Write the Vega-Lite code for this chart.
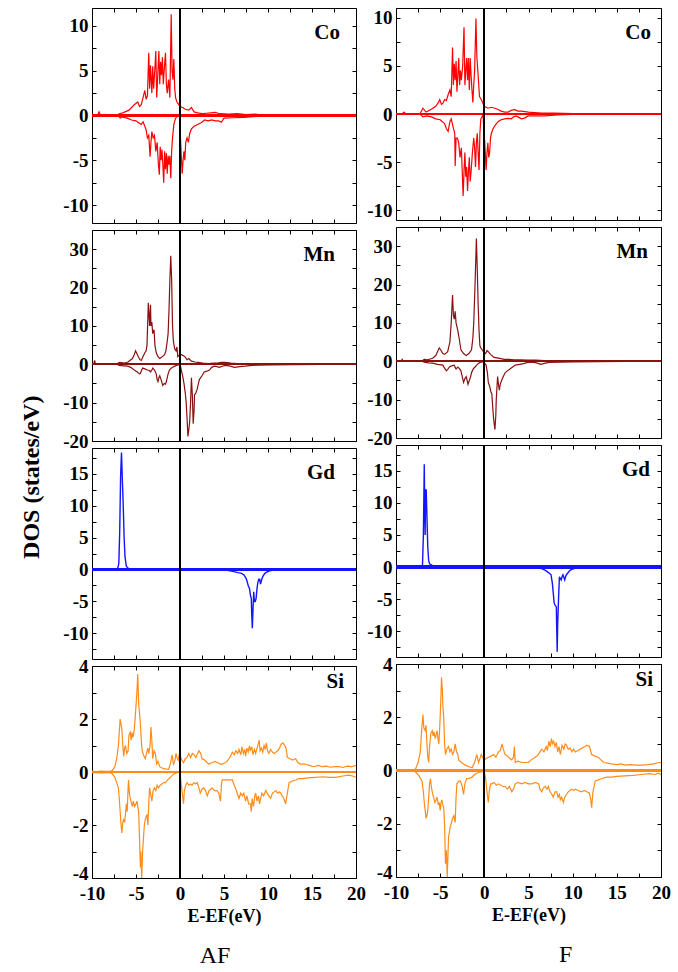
{
"$schema":"https://vega.github.io/schema/vega-lite/v6.json",
"padding":{"left":20,"top":7,"right":0,"bottom":0},
"config":{
"view":{"stroke":"black","strokeWidth":1},
"font":"Liberation Serif",
"axis":{"domain":false,"grid":false,"ticks":true,"tickSize":-4,"tickColor":"black","tickWidth":1,"labelFont":"Liberation Serif","labelFontSize":19,"labelFontWeight":"bold","labelColor":"black","labelPadding":8,"labelFlush":false,"labelOverlap":false,"titleFont":"Liberation Serif","titleFontSize":18,"titleFontWeight":"bold","titleColor":"black","titlePadding":4},
"title":{"font":"Liberation Serif","fontSize":21,"fontWeight":"bold","color":"black","anchor":"end","frame":"group","offset":-35},
"concat":{"spacing":7}
},
"datasets":{
"AF_Co":[
{"s":"u","e":-10,"d":0},{"s":"u","e":-9.4,"d":0},{"s":"u","e":-9.2,"d":0.4},{"s":"u","e":-9.0,"d":0},{"s":"u","e":-7.2,"d":0},{"s":"u","e":-6.9,"d":0.2},{"s":"u","e":-6.5,"d":0.3},{"s":"u","e":-5.8,"d":0.6},{"s":"u","e":-5.2,"d":1.2},{"s":"u","e":-4.8,"d":1.5},{"s":"u","e":-4.6,"d":1.0},{"s":"u","e":-4.4,"d":1.2},{"s":"u","e":-4.2,"d":2.0},{"s":"u","e":-4.0,"d":2.8},{"s":"u","e":-3.85,"d":1.8},{"s":"u","e":-3.7,"d":2.2},{"s":"u","e":-3.55,"d":7.0},{"s":"u","e":-3.45,"d":3.0},{"s":"u","e":-3.35,"d":5.6},{"s":"u","e":-3.2,"d":2.5},{"s":"u","e":-3.1,"d":5.5},{"s":"u","e":-3.0,"d":3.0},{"s":"u","e":-2.9,"d":4.5},{"s":"u","e":-2.75,"d":7.2},{"s":"u","e":-2.65,"d":2.0},{"s":"u","e":-2.55,"d":4.0},{"s":"u","e":-2.4,"d":7.2},{"s":"u","e":-2.3,"d":3.5},{"s":"u","e":-2.2,"d":6.0},{"s":"u","e":-2.1,"d":4.5},{"s":"u","e":-2.0,"d":6.5},{"s":"u","e":-1.9,"d":3.5},{"s":"u","e":-1.8,"d":5.0},{"s":"u","e":-1.65,"d":7.0},{"s":"u","e":-1.55,"d":3.5},{"s":"u","e":-1.45,"d":2.5},{"s":"u","e":-1.3,"d":4.0},{"s":"u","e":-1.15,"d":2.0},{"s":"u","e":-1.0,"d":11.3},{"s":"u","e":-0.9,"d":5.0},{"s":"u","e":-0.8,"d":4.0},{"s":"u","e":-0.7,"d":6.3},{"s":"u","e":-0.6,"d":3.0},{"s":"u","e":-0.5,"d":2.0},{"s":"u","e":-0.35,"d":1.5},{"s":"u","e":-0.2,"d":1.3},{"s":"u","e":0,"d":1.0},{"s":"u","e":0.3,"d":0.9},{"s":"u","e":0.6,"d":0.7},{"s":"u","e":1.0,"d":0.6},{"s":"u","e":1.3,"d":0.9},{"s":"u","e":1.6,"d":0.4},{"s":"u","e":2.0,"d":0.3},{"s":"u","e":2.5,"d":0.2},{"s":"u","e":3.0,"d":0.25},{"s":"u","e":3.5,"d":0.3},{"s":"u","e":4.0,"d":0.35},{"s":"u","e":4.5,"d":0.2},{"s":"u","e":5.5,"d":0.15},{"s":"u","e":6.5,"d":0.2},{"s":"u","e":7.5,"d":0.1},{"s":"u","e":8.5,"d":0.15},{"s":"u","e":9.5,"d":0.05},{"s":"u","e":11,"d":0.05},{"s":"u","e":13,"d":0.02},{"s":"u","e":16,"d":0.02},{"s":"u","e":20,"d":0},
{"s":"d","e":-10,"d":0},{"s":"d","e":-7.0,"d":0},{"s":"d","e":-6.8,"d":-0.3},{"s":"d","e":-6.6,"d":-0.15},{"s":"d","e":-6.0,"d":-0.3},{"s":"d","e":-5.5,"d":-0.5},{"s":"d","e":-5.0,"d":-0.6},{"s":"d","e":-4.7,"d":-0.8},{"s":"d","e":-4.4,"d":-1.0},{"s":"d","e":-4.2,"d":-0.7},{"s":"d","e":-4.0,"d":-1.2},{"s":"d","e":-3.85,"d":-1.6},{"s":"d","e":-3.7,"d":-2.5},{"s":"d","e":-3.55,"d":-2.2},{"s":"d","e":-3.4,"d":-4.6},{"s":"d","e":-3.3,"d":-3.0},{"s":"d","e":-3.2,"d":-1.8},{"s":"d","e":-3.05,"d":-2.5},{"s":"d","e":-2.9,"d":-2.2},{"s":"d","e":-2.75,"d":-4.0},{"s":"d","e":-2.6,"d":-3.0},{"s":"d","e":-2.45,"d":-5.5},{"s":"d","e":-2.35,"d":-6.6},{"s":"d","e":-2.25,"d":-3.5},{"s":"d","e":-2.15,"d":-5.0},{"s":"d","e":-2.05,"d":-3.8},{"s":"d","e":-1.95,"d":-5.5},{"s":"d","e":-1.85,"d":-7.5},{"s":"d","e":-1.75,"d":-4.0},{"s":"d","e":-1.65,"d":-6.0},{"s":"d","e":-1.55,"d":-4.2},{"s":"d","e":-1.45,"d":-6.5},{"s":"d","e":-1.35,"d":-4.5},{"s":"d","e":-1.25,"d":-5.5},{"s":"d","e":-1.15,"d":-4.5},{"s":"d","e":-1.05,"d":-7.0},{"s":"d","e":-0.95,"d":-4.0},{"s":"d","e":-0.85,"d":-2.5},{"s":"d","e":-0.7,"d":-1.0},{"s":"d","e":-0.5,"d":-0.3},{"s":"d","e":-0.3,"d":-0.1},{"s":"d","e":-0.05,"d":0},{"s":"d","e":0.1,"d":-3.5},{"s":"d","e":0.25,"d":-6.5},{"s":"d","e":0.35,"d":-5.0},{"s":"d","e":0.45,"d":-4.0},{"s":"d","e":0.55,"d":-5.0},{"s":"d","e":0.65,"d":-3.0},{"s":"d","e":0.8,"d":-2.5},{"s":"d","e":0.95,"d":-3.0},{"s":"d","e":1.1,"d":-2.0},{"s":"d","e":1.3,"d":-1.5},{"s":"d","e":1.6,"d":-1.2},{"s":"d","e":2.0,"d":-1.0},{"s":"d","e":2.4,"d":-0.8},{"s":"d","e":2.8,"d":-0.5},{"s":"d","e":3.2,"d":-0.6},{"s":"d","e":3.6,"d":-0.5},{"s":"d","e":4.0,"d":-0.6},{"s":"d","e":4.4,"d":-0.6},{"s":"d","e":4.7,"d":-0.75},{"s":"d","e":5.0,"d":-0.3},{"s":"d","e":6.0,"d":-0.25},{"s":"d","e":7.3,"d":-0.2},{"s":"d","e":8.8,"d":-0.1},{"s":"d","e":10,"d":-0.08},{"s":"d","e":12,"d":-0.05},{"s":"d","e":15,"d":-0.02},{"s":"d","e":20,"d":0}
],
"F_Co":[
{"s":"u","e":-10,"d":0},{"s":"u","e":-9.3,"d":0},{"s":"u","e":-9.1,"d":0.2},{"s":"u","e":-8.9,"d":0},{"s":"u","e":-7.3,"d":0},{"s":"u","e":-6.95,"d":0.6},{"s":"u","e":-6.6,"d":0.2},{"s":"u","e":-6.0,"d":0.5},{"s":"u","e":-5.5,"d":0.8},{"s":"u","e":-5.2,"d":1.2},{"s":"u","e":-5.05,"d":1.5},{"s":"u","e":-4.85,"d":1.0},{"s":"u","e":-4.7,"d":1.1},{"s":"u","e":-4.5,"d":1.5},{"s":"u","e":-4.3,"d":1.4},{"s":"u","e":-4.1,"d":2.0},{"s":"u","e":-3.9,"d":2.5},{"s":"u","e":-3.75,"d":1.8},{"s":"u","e":-3.6,"d":6.9},{"s":"u","e":-3.5,"d":3.0},{"s":"u","e":-3.4,"d":5.2},{"s":"u","e":-3.3,"d":3.5},{"s":"u","e":-3.2,"d":5.5},{"s":"u","e":-3.1,"d":2.3},{"s":"u","e":-3.0,"d":4.0},{"s":"u","e":-2.9,"d":5.8},{"s":"u","e":-2.8,"d":3.0},{"s":"u","e":-2.7,"d":4.5},{"s":"u","e":-2.6,"d":3.5},{"s":"u","e":-2.45,"d":5.0},{"s":"u","e":-2.3,"d":9.0},{"s":"u","e":-2.2,"d":3.0},{"s":"u","e":-2.1,"d":4.5},{"s":"u","e":-2.0,"d":5.8},{"s":"u","e":-1.9,"d":3.5},{"s":"u","e":-1.8,"d":5.8},{"s":"u","e":-1.7,"d":2.5},{"s":"u","e":-1.6,"d":5.8},{"s":"u","e":-1.5,"d":4.0},{"s":"u","e":-1.4,"d":2.5},{"s":"u","e":-1.3,"d":1.2},{"s":"u","e":-1.2,"d":3.0},{"s":"u","e":-1.1,"d":4.5},{"s":"u","e":-0.95,"d":9.9},{"s":"u","e":-0.85,"d":6.0},{"s":"u","e":-0.7,"d":4.0},{"s":"u","e":-0.55,"d":1.8},{"s":"u","e":-0.35,"d":1.5},{"s":"u","e":-0.2,"d":1.2},{"s":"u","e":0,"d":0.8},{"s":"u","e":0.4,"d":0.6},{"s":"u","e":0.8,"d":0.7},{"s":"u","e":1.2,"d":0.6},{"s":"u","e":1.5,"d":0.5},{"s":"u","e":1.9,"d":0.3},{"s":"u","e":2.3,"d":0.2},{"s":"u","e":2.7,"d":0.2},{"s":"u","e":3.1,"d":0.4},{"s":"u","e":3.45,"d":0.45},{"s":"u","e":3.8,"d":0.3},{"s":"u","e":4.2,"d":0.3},{"s":"u","e":5.0,"d":0.2},{"s":"u","e":5.7,"d":0.15},{"s":"u","e":6.5,"d":0.1},{"s":"u","e":8.0,"d":0.1},{"s":"u","e":10,"d":0.05},{"s":"u","e":13,"d":0.03},{"s":"u","e":20,"d":0},
{"s":"d","e":-10,"d":0},{"s":"d","e":-7.3,"d":0},{"s":"d","e":-6.95,"d":-0.3},{"s":"d","e":-6.5,"d":-0.2},{"s":"d","e":-6.0,"d":-0.3},{"s":"d","e":-5.5,"d":-0.5},{"s":"d","e":-5.0,"d":-0.6},{"s":"d","e":-4.5,"d":-1.0},{"s":"d","e":-4.3,"d":-1.5},{"s":"d","e":-4.1,"d":-1.8},{"s":"d","e":-3.9,"d":-0.8},{"s":"d","e":-3.75,"d":-0.5},{"s":"d","e":-3.5,"d":-1.5},{"s":"d","e":-3.35,"d":-2.0},{"s":"d","e":-3.3,"d":-5.4},{"s":"d","e":-3.2,"d":-2.5},{"s":"d","e":-3.05,"d":-2.5},{"s":"d","e":-2.9,"d":-3.0},{"s":"d","e":-2.75,"d":-4.5},{"s":"d","e":-2.6,"d":-3.5},{"s":"d","e":-2.5,"d":-6.0},{"s":"d","e":-2.4,"d":-8.5},{"s":"d","e":-2.3,"d":-6.0},{"s":"d","e":-2.2,"d":-4.0},{"s":"d","e":-2.1,"d":-6.5},{"s":"d","e":-2.0,"d":-5.5},{"s":"d","e":-1.9,"d":-8.0},{"s":"d","e":-1.8,"d":-6.0},{"s":"d","e":-1.7,"d":-4.5},{"s":"d","e":-1.6,"d":-7.0},{"s":"d","e":-1.5,"d":-6.0},{"s":"d","e":-1.35,"d":-4.0},{"s":"d","e":-1.2,"d":-2.5},{"s":"d","e":-1.1,"d":-3.5},{"s":"d","e":-1.0,"d":-5.5},{"s":"d","e":-0.9,"d":-3.0},{"s":"d","e":-0.8,"d":-2.0},{"s":"d","e":-0.7,"d":-4.0},{"s":"d","e":-0.6,"d":-5.8},{"s":"d","e":-0.5,"d":-2.0},{"s":"d","e":-0.4,"d":-0.5},{"s":"d","e":-0.15,"d":-0.1},{"s":"d","e":0.05,"d":-3.0},{"s":"d","e":0.2,"d":-5.8},{"s":"d","e":0.3,"d":-4.0},{"s":"d","e":0.4,"d":-3.0},{"s":"d","e":0.5,"d":-4.5},{"s":"d","e":0.6,"d":-4.0},{"s":"d","e":0.7,"d":-2.5},{"s":"d","e":0.8,"d":-2.0},{"s":"d","e":1.0,"d":-1.5},{"s":"d","e":1.2,"d":-1.2},{"s":"d","e":1.55,"d":-0.8},{"s":"d","e":1.9,"d":-0.6},{"s":"d","e":2.3,"d":-0.5},{"s":"d","e":2.7,"d":-0.45},{"s":"d","e":3.05,"d":-0.5},{"s":"d","e":3.3,"d":-0.3},{"s":"d","e":3.6,"d":-0.2},{"s":"d","e":3.9,"d":-0.35},{"s":"d","e":4.2,"d":-0.5},{"s":"d","e":4.6,"d":-0.4},{"s":"d","e":4.95,"d":-0.2},{"s":"d","e":5.5,"d":-0.2},{"s":"d","e":6.8,"d":-0.2},{"s":"d","e":8.3,"d":-0.1},{"s":"d","e":10,"d":-0.05},{"s":"d","e":13,"d":-0.03},{"s":"d","e":20,"d":0}
],
"AF_Mn":[
{"s":"u","e":-10,"d":0},{"s":"u","e":-9.8,"d":0},{"s":"u","e":-9.7,"d":1.0},{"s":"u","e":-9.6,"d":0},{"s":"u","e":-7.2,"d":0},{"s":"u","e":-6.9,"d":0.5},{"s":"u","e":-6.5,"d":0.4},{"s":"u","e":-6.3,"d":0.3},{"s":"u","e":-5.9,"d":0.6},{"s":"u","e":-5.7,"d":1.0},{"s":"u","e":-5.4,"d":1.5},{"s":"u","e":-5.2,"d":2.5},{"s":"u","e":-5.05,"d":3.5},{"s":"u","e":-4.9,"d":2.8},{"s":"u","e":-4.75,"d":2.0},{"s":"u","e":-4.55,"d":1.2},{"s":"u","e":-4.4,"d":1.0},{"s":"u","e":-4.2,"d":2.0},{"s":"u","e":-4.0,"d":3.0},{"s":"u","e":-3.85,"d":3.5},{"s":"u","e":-3.75,"d":5.0},{"s":"u","e":-3.6,"d":16.0},{"s":"u","e":-3.5,"d":12.0},{"s":"u","e":-3.45,"d":10.0},{"s":"u","e":-3.35,"d":15.5},{"s":"u","e":-3.3,"d":10.0},{"s":"u","e":-3.2,"d":11.0},{"s":"u","e":-3.1,"d":8.0},{"s":"u","e":-2.95,"d":9.0},{"s":"u","e":-2.85,"d":5.0},{"s":"u","e":-2.7,"d":3.0},{"s":"u","e":-2.5,"d":2.0},{"s":"u","e":-2.3,"d":1.5},{"s":"u","e":-2.1,"d":1.8},{"s":"u","e":-1.9,"d":2.2},{"s":"u","e":-1.75,"d":2.5},{"s":"u","e":-1.6,"d":3.5},{"s":"u","e":-1.45,"d":6.0},{"s":"u","e":-1.35,"d":8.0},{"s":"u","e":-1.25,"d":14.0},{"s":"u","e":-1.15,"d":22.0},{"s":"u","e":-1.05,"d":28.3},{"s":"u","e":-0.95,"d":22.0},{"s":"u","e":-0.85,"d":10.0},{"s":"u","e":-0.75,"d":6.0},{"s":"u","e":-0.6,"d":4.0},{"s":"u","e":-0.45,"d":3.5},{"s":"u","e":-0.35,"d":4.5},{"s":"u","e":-0.25,"d":2.0},{"s":"u","e":0,"d":2.5},{"s":"u","e":0.15,"d":2.5},{"s":"u","e":0.4,"d":2.2},{"s":"u","e":0.55,"d":2.0},{"s":"u","e":0.8,"d":1.2},{"s":"u","e":1.0,"d":1.5},{"s":"u","e":1.3,"d":0.8},{"s":"u","e":1.7,"d":0.6},{"s":"u","e":2.05,"d":0.5},{"s":"u","e":2.6,"d":0.3},{"s":"u","e":3.2,"d":0.2},{"s":"u","e":3.8,"d":0.3},{"s":"u","e":4.35,"d":0.4},{"s":"u","e":4.7,"d":0.5},{"s":"u","e":5.1,"d":0.5},{"s":"u","e":5.8,"d":0.3},{"s":"u","e":6.5,"d":0.2},{"s":"u","e":8,"d":0.15},{"s":"u","e":10,"d":0.1},{"s":"u","e":12,"d":0.1},{"s":"u","e":15,"d":0.05},{"s":"u","e":18,"d":0.05},{"s":"u","e":20,"d":0},
{"s":"d","e":-10,"d":0},{"s":"d","e":-7.2,"d":0},{"s":"d","e":-6.9,"d":-0.3},{"s":"d","e":-6.4,"d":-0.4},{"s":"d","e":-5.95,"d":-0.5},{"s":"d","e":-5.6,"d":-0.8},{"s":"d","e":-5.2,"d":-1.5},{"s":"d","e":-4.85,"d":-2.0},{"s":"d","e":-4.6,"d":-2.5},{"s":"d","e":-4.5,"d":-2.4},{"s":"d","e":-4.35,"d":-1.5},{"s":"d","e":-4.25,"d":-1.0},{"s":"d","e":-4.0,"d":-1.2},{"s":"d","e":-3.7,"d":-1.5},{"s":"d","e":-3.5,"d":-1.6},{"s":"d","e":-3.35,"d":-2.0},{"s":"d","e":-3.2,"d":-1.5},{"s":"d","e":-3.1,"d":-1.0},{"s":"d","e":-2.9,"d":-1.5},{"s":"d","e":-2.7,"d":-2.5},{"s":"d","e":-2.6,"d":-4.0},{"s":"d","e":-2.5,"d":-4.5},{"s":"d","e":-2.4,"d":-3.5},{"s":"d","e":-2.3,"d":-3.0},{"s":"d","e":-2.15,"d":-4.0},{"s":"d","e":-2.0,"d":-5.2},{"s":"d","e":-1.95,"d":-5.5},{"s":"d","e":-1.8,"d":-5.0},{"s":"d","e":-1.65,"d":-5.2},{"s":"d","e":-1.55,"d":-4.5},{"s":"d","e":-1.45,"d":-3.5},{"s":"d","e":-1.35,"d":-2.5},{"s":"d","e":-1.2,"d":-1.5},{"s":"d","e":-1.0,"d":-1.0},{"s":"d","e":-0.7,"d":-0.6},{"s":"d","e":-0.4,"d":-0.3},{"s":"d","e":-0.2,"d":-0.1},{"s":"d","e":0.05,"d":-0.3},{"s":"d","e":0.15,"d":-1.5},{"s":"d","e":0.3,"d":-3.0},{"s":"d","e":0.45,"d":-5.0},{"s":"d","e":0.6,"d":-7.5},{"s":"d","e":0.7,"d":-10.0},{"s":"d","e":0.8,"d":-14.0},{"s":"d","e":0.9,"d":-18.8},{"s":"d","e":1.0,"d":-17.0},{"s":"d","e":1.1,"d":-15.0},{"s":"d","e":1.2,"d":-10.0},{"s":"d","e":1.3,"d":-3.5},{"s":"d","e":1.4,"d":-8.0},{"s":"d","e":1.5,"d":-15.5},{"s":"d","e":1.6,"d":-12.0},{"s":"d","e":1.65,"d":-8.0},{"s":"d","e":1.8,"d":-7.5},{"s":"d","e":1.95,"d":-6.5},{"s":"d","e":2.1,"d":-5.0},{"s":"d","e":2.2,"d":-4.0},{"s":"d","e":2.5,"d":-3.0},{"s":"d","e":2.75,"d":-2.0},{"s":"d","e":3.05,"d":-1.8},{"s":"d","e":3.35,"d":-1.5},{"s":"d","e":3.6,"d":-0.8},{"s":"d","e":3.9,"d":-0.5},{"s":"d","e":4.2,"d":-0.6},{"s":"d","e":4.5,"d":-0.8},{"s":"d","e":4.8,"d":-0.5},{"s":"d","e":5.1,"d":-0.3},{"s":"d","e":5.6,"d":-0.4},{"s":"d","e":6.2,"d":-0.8},{"s":"d","e":6.8,"d":-0.6},{"s":"d","e":7.4,"d":-0.5},{"s":"d","e":8.2,"d":-0.3},{"s":"d","e":8.9,"d":-0.2},{"s":"d","e":10.5,"d":-0.15},{"s":"d","e":13,"d":-0.1},{"s":"d","e":16,"d":-0.05},{"s":"d","e":20,"d":0}
],
"F_Mn":[
{"s":"u","e":-10,"d":0},{"s":"u","e":-9.4,"d":0},{"s":"u","e":-9.3,"d":0.5},{"s":"u","e":-9.2,"d":0},{"s":"u","e":-7.1,"d":0},{"s":"u","e":-6.8,"d":0.5},{"s":"u","e":-6.4,"d":0.4},{"s":"u","e":-5.85,"d":0.8},{"s":"u","e":-5.5,"d":1.5},{"s":"u","e":-5.3,"d":2.5},{"s":"u","e":-5.1,"d":3.5},{"s":"u","e":-4.95,"d":3.0},{"s":"u","e":-4.7,"d":2.0},{"s":"u","e":-4.5,"d":1.8},{"s":"u","e":-4.3,"d":2.2},{"s":"u","e":-4.15,"d":2.5},{"s":"u","e":-3.9,"d":5.0},{"s":"u","e":-3.75,"d":10.0},{"s":"u","e":-3.6,"d":17.3},{"s":"u","e":-3.5,"d":12.0},{"s":"u","e":-3.4,"d":11.0},{"s":"u","e":-3.3,"d":13.0},{"s":"u","e":-3.2,"d":10.0},{"s":"u","e":-3.0,"d":8.0},{"s":"u","e":-2.85,"d":6.0},{"s":"u","e":-2.65,"d":3.0},{"s":"u","e":-2.35,"d":2.0},{"s":"u","e":-2.05,"d":1.5},{"s":"u","e":-1.75,"d":2.0},{"s":"u","e":-1.45,"d":3.0},{"s":"u","e":-1.3,"d":6.0},{"s":"u","e":-1.2,"d":10.0},{"s":"u","e":-1.05,"d":20.0},{"s":"u","e":-0.9,"d":32.0},{"s":"u","e":-0.8,"d":24.0},{"s":"u","e":-0.7,"d":15.0},{"s":"u","e":-0.6,"d":8.0},{"s":"u","e":-0.5,"d":4.0},{"s":"u","e":-0.4,"d":3.5},{"s":"u","e":-0.25,"d":3.0},{"s":"u","e":-0.1,"d":2.5},{"s":"u","e":0.15,"d":2.0},{"s":"u","e":0.3,"d":2.8},{"s":"u","e":0.45,"d":2.5},{"s":"u","e":0.7,"d":1.8},{"s":"u","e":1.1,"d":1.0},{"s":"u","e":1.6,"d":0.8},{"s":"u","e":2.25,"d":0.5},{"s":"u","e":2.8,"d":0.5},{"s":"u","e":3.4,"d":0.4},{"s":"u","e":4.1,"d":0.4},{"s":"u","e":4.9,"d":0.3},{"s":"u","e":5.8,"d":0.3},{"s":"u","e":6.8,"d":0.2},{"s":"u","e":8,"d":0.15},{"s":"u","e":10,"d":0.15},{"s":"u","e":12,"d":0.1},{"s":"u","e":15,"d":0.1},{"s":"u","e":18,"d":0.05},{"s":"u","e":20,"d":0.05},
{"s":"d","e":-10,"d":0},{"s":"d","e":-7.1,"d":0},{"s":"d","e":-6.8,"d":-0.2},{"s":"d","e":-6.3,"d":-0.4},{"s":"d","e":-5.85,"d":-0.5},{"s":"d","e":-5.3,"d":-0.8},{"s":"d","e":-4.7,"d":-1.0},{"s":"d","e":-4.5,"d":-1.8},{"s":"d","e":-4.3,"d":-2.5},{"s":"d","e":-4.1,"d":-2.0},{"s":"d","e":-3.95,"d":-1.5},{"s":"d","e":-3.7,"d":-1.2},{"s":"d","e":-3.4,"d":-1.0},{"s":"d","e":-3.3,"d":-1.6},{"s":"d","e":-3.2,"d":-2.0},{"s":"d","e":-3.0,"d":-1.5},{"s":"d","e":-2.8,"d":-2.0},{"s":"d","e":-2.65,"d":-2.5},{"s":"d","e":-2.5,"d":-4.0},{"s":"d","e":-2.35,"d":-5.5},{"s":"d","e":-2.2,"d":-4.5},{"s":"d","e":-2.05,"d":-4.0},{"s":"d","e":-1.95,"d":-5.0},{"s":"d","e":-1.85,"d":-6.0},{"s":"d","e":-1.7,"d":-5.0},{"s":"d","e":-1.55,"d":-4.0},{"s":"d","e":-1.45,"d":-3.0},{"s":"d","e":-1.25,"d":-2.0},{"s":"d","e":-1.05,"d":-1.5},{"s":"d","e":-0.8,"d":-0.8},{"s":"d","e":-0.5,"d":-0.3},{"s":"d","e":-0.1,"d":-0.1},{"s":"d","e":0.2,"d":-1.0},{"s":"d","e":0.35,"d":-3.0},{"s":"d","e":0.45,"d":-5.5},{"s":"d","e":0.6,"d":-6.5},{"s":"d","e":0.75,"d":-8.0},{"s":"d","e":0.85,"d":-8.5},{"s":"d","e":0.95,"d":-12.0},{"s":"d","e":1.05,"d":-15.0},{"s":"d","e":1.2,"d":-17.8},{"s":"d","e":1.3,"d":-14.0},{"s":"d","e":1.35,"d":-10.0},{"s":"d","e":1.5,"d":-4.0},{"s":"d","e":1.6,"d":-6.0},{"s":"d","e":1.7,"d":-7.5},{"s":"d","e":1.8,"d":-6.0},{"s":"d","e":1.95,"d":-5.0},{"s":"d","e":2.15,"d":-4.0},{"s":"d","e":2.35,"d":-3.0},{"s":"d","e":2.6,"d":-2.5},{"s":"d","e":2.9,"d":-2.0},{"s":"d","e":3.2,"d":-1.5},{"s":"d","e":3.5,"d":-1.0},{"s":"d","e":4.0,"d":-0.8},{"s":"d","e":4.45,"d":-0.6},{"s":"d","e":4.9,"d":-0.3},{"s":"d","e":5.65,"d":-0.3},{"s":"d","e":6.0,"d":-0.5},{"s":"d","e":6.4,"d":-0.8},{"s":"d","e":6.9,"d":-0.5},{"s":"d","e":7.35,"d":-0.3},{"s":"d","e":8.7,"d":-0.2},{"s":"d","e":10,"d":-0.15},{"s":"d","e":13,"d":-0.1},{"s":"d","e":16,"d":-0.05},{"s":"d","e":20,"d":0}
],
"AF_Gd":[
{"s":"u","e":-10,"d":0},{"s":"u","e":-7.2,"d":0},{"s":"u","e":-7.05,"d":0.3},{"s":"u","e":-6.95,"d":1.0},{"s":"u","e":-6.85,"d":6.0},{"s":"u","e":-6.75,"d":14.5},{"s":"u","e":-6.65,"d":18.3},{"s":"u","e":-6.55,"d":14.0},{"s":"u","e":-6.45,"d":10.0},{"s":"u","e":-6.35,"d":5.0},{"s":"u","e":-6.25,"d":2.0},{"s":"u","e":-6.1,"d":0.5},{"s":"u","e":-5.9,"d":0.2},{"s":"u","e":-5.7,"d":0.1},{"s":"u","e":-5.0,"d":0.05},{"s":"u","e":-4.0,"d":0.1},{"s":"u","e":-3.0,"d":0.1},{"s":"u","e":-2.0,"d":0.12},{"s":"u","e":-1.0,"d":0.1},{"s":"u","e":0,"d":0.05},{"s":"u","e":2,"d":0.02},{"s":"u","e":20,"d":0},
{"s":"d","e":-10,"d":0},{"s":"d","e":4.5,"d":0},{"s":"d","e":5.2,"d":-0.1},{"s":"d","e":6.0,"d":-0.3},{"s":"d","e":6.6,"d":-0.5},{"s":"d","e":7.0,"d":-0.6},{"s":"d","e":7.3,"d":-0.9},{"s":"d","e":7.55,"d":-1.5},{"s":"d","e":7.75,"d":-2.5},{"s":"d","e":7.9,"d":-3.0},{"s":"d","e":8.0,"d":-4.0},{"s":"d","e":8.1,"d":-4.5},{"s":"d","e":8.15,"d":-7.0},{"s":"d","e":8.22,"d":-9.2},{"s":"d","e":8.3,"d":-6.0},{"s":"d","e":8.38,"d":-3.5},{"s":"d","e":8.45,"d":-5.0},{"s":"d","e":8.55,"d":-5.0},{"s":"d","e":8.65,"d":-4.5},{"s":"d","e":8.75,"d":-3.0},{"s":"d","e":8.85,"d":-2.0},{"s":"d","e":8.95,"d":-1.5},{"s":"d","e":9.05,"d":-1.5},{"s":"d","e":9.15,"d":-2.3},{"s":"d","e":9.3,"d":-1.5},{"s":"d","e":9.45,"d":-1.0},{"s":"d","e":9.65,"d":-0.6},{"s":"d","e":9.85,"d":-0.4},{"s":"d","e":10.2,"d":-0.2},{"s":"d","e":10.6,"d":-0.1},{"s":"d","e":11.5,"d":-0.02},{"s":"d","e":20,"d":0}
],
"F_Gd":[
{"s":"u","e":-10,"d":0},{"s":"u","e":-7.1,"d":0},{"s":"u","e":-7.0,"d":0.3},{"s":"u","e":-6.9,"d":5.0},{"s":"u","e":-6.8,"d":16.0},{"s":"u","e":-6.75,"d":10.0},{"s":"u","e":-6.7,"d":5.0},{"s":"u","e":-6.65,"d":12.0},{"s":"u","e":-6.58,"d":12.0},{"s":"u","e":-6.5,"d":8.0},{"s":"u","e":-6.4,"d":3.0},{"s":"u","e":-6.3,"d":1.0},{"s":"u","e":-6.2,"d":0.5},{"s":"u","e":-5.8,"d":0.2},{"s":"u","e":-5.0,"d":0.05},{"s":"u","e":-3.5,"d":0.1},{"s":"u","e":-2.5,"d":0.05},{"s":"u","e":-1.5,"d":0.05},{"s":"u","e":0,"d":0.02},{"s":"u","e":20,"d":0},
{"s":"d","e":-10,"d":0},{"s":"d","e":5.5,"d":0},{"s":"d","e":6.2,"d":-0.1},{"s":"d","e":6.6,"d":-0.3},{"s":"d","e":7.0,"d":-0.6},{"s":"d","e":7.3,"d":-0.9},{"s":"d","e":7.55,"d":-1.2},{"s":"d","e":7.7,"d":-2.5},{"s":"d","e":7.8,"d":-4.0},{"s":"d","e":7.9,"d":-5.5},{"s":"d","e":7.95,"d":-5.8},{"s":"d","e":8.05,"d":-6.0},{"s":"d","e":8.15,"d":-6.2},{"s":"d","e":8.2,"d":-10.0},{"s":"d","e":8.25,"d":-13.2},{"s":"d","e":8.3,"d":-9.0},{"s":"d","e":8.4,"d":-5.0},{"s":"d","e":8.5,"d":-1.5},{"s":"d","e":8.6,"d":-1.8},{"s":"d","e":8.7,"d":-2.0},{"s":"d","e":8.8,"d":-1.5},{"s":"d","e":8.9,"d":-1.2},{"s":"d","e":9.0,"d":-1.6},{"s":"d","e":9.1,"d":-2.0},{"s":"d","e":9.25,"d":-1.3},{"s":"d","e":9.4,"d":-1.0},{"s":"d","e":9.7,"d":-0.5},{"s":"d","e":10.0,"d":-0.3},{"s":"d","e":10.5,"d":-0.1},{"s":"d","e":11.5,"d":-0.02},{"s":"d","e":20,"d":0}
],
"AF_Si":[
{"s":"u","e":-10,"d":0.03},{"s":"u","e":-9.5,"d":0.01},{"s":"u","e":-9.0,"d":0.03},{"s":"u","e":-8.5,"d":0.02},{"s":"u","e":-8.0,"d":0.02},{"s":"u","e":-7.7,"d":0.05},{"s":"u","e":-7.4,"d":0.2},{"s":"u","e":-7.2,"d":0.5},{"s":"u","e":-7.0,"d":1.0},{"s":"u","e":-6.9,"d":1.5},{"s":"u","e":-6.8,"d":2.0},{"s":"u","e":-6.7,"d":1.8},{"s":"u","e":-6.6,"d":1.6},{"s":"u","e":-6.5,"d":1.0},{"s":"u","e":-6.4,"d":0.6},{"s":"u","e":-6.3,"d":0.9},{"s":"u","e":-6.2,"d":1.0},{"s":"u","e":-6.05,"d":0.7},{"s":"u","e":-5.9,"d":0.8},{"s":"u","e":-5.8,"d":1.4},{"s":"u","e":-5.65,"d":1.5},{"s":"u","e":-5.55,"d":1.2},{"s":"u","e":-5.45,"d":1.5},{"s":"u","e":-5.35,"d":1.3},{"s":"u","e":-5.2,"d":1.6},{"s":"u","e":-5.1,"d":2.0},{"s":"u","e":-5.0,"d":2.5},{"s":"u","e":-4.9,"d":3.0},{"s":"u","e":-4.8,"d":3.7},{"s":"u","e":-4.7,"d":2.6},{"s":"u","e":-4.6,"d":2.2},{"s":"u","e":-4.5,"d":1.8},{"s":"u","e":-4.4,"d":1.2},{"s":"u","e":-4.3,"d":0.8},{"s":"u","e":-4.1,"d":0.6},{"s":"u","e":-3.95,"d":0.5},{"s":"u","e":-3.8,"d":0.7},{"s":"u","e":-3.65,"d":0.9},{"s":"u","e":-3.55,"d":0.7},{"s":"u","e":-3.4,"d":1.0},{"s":"u","e":-3.3,"d":1.7},{"s":"u","e":-3.2,"d":1.2},{"s":"u","e":-3.1,"d":0.5},{"s":"u","e":-2.95,"d":0.8},{"s":"u","e":-2.8,"d":0.7},{"s":"u","e":-2.65,"d":0.3},{"s":"u","e":-2.5,"d":0.4},{"s":"u","e":-2.3,"d":0.2},{"s":"u","e":-2.05,"d":0.15},{"s":"u","e":-1.7,"d":0.12},{"s":"u","e":-1.3,"d":0.1},{"s":"u","e":-1.1,"d":0.3},{"s":"u","e":-0.9,"d":0.65},{"s":"u","e":-0.75,"d":0.3},{"s":"u","e":-0.6,"d":0.4},{"s":"u","e":-0.45,"d":0.7},{"s":"u","e":-0.35,"d":0.55},{"s":"u","e":-0.2,"d":0.45},{"s":"u","e":-0.1,"d":0.65},{"s":"u","e":0.05,"d":0.6},{"s":"u","e":0.2,"d":0.45},{"s":"u","e":0.4,"d":0.35},{"s":"u","e":0.6,"d":0.5},{"s":"u","e":0.8,"d":0.55},{"s":"u","e":1.0,"d":0.7},{"s":"u","e":1.2,"d":0.55},{"s":"u","e":1.4,"d":0.7},{"s":"u","e":1.6,"d":0.65},{"s":"u","e":1.8,"d":0.55},{"s":"u","e":2.0,"d":0.7},{"s":"u","e":2.15,"d":0.8},{"s":"u","e":2.35,"d":0.7},{"s":"u","e":2.5,"d":0.5},{"s":"u","e":2.8,"d":0.45},{"s":"u","e":3.1,"d":0.35},{"s":"u","e":3.3,"d":0.3},{"s":"u","e":3.6,"d":0.35},{"s":"u","e":4.0,"d":0.4},{"s":"u","e":4.3,"d":0.35},{"s":"u","e":4.6,"d":0.3},{"s":"u","e":4.8,"d":0.3},{"s":"u","e":5.1,"d":0.35},{"s":"u","e":5.35,"d":0.4},{"s":"u","e":5.55,"d":0.5},{"s":"u","e":5.75,"d":0.6},{"s":"u","e":5.95,"d":0.75},{"s":"u","e":6.15,"d":0.65},{"s":"u","e":6.35,"d":0.8},{"s":"u","e":6.55,"d":0.7},{"s":"u","e":6.7,"d":0.85},{"s":"u","e":6.9,"d":0.65},{"s":"u","e":7.05,"d":0.95},{"s":"u","e":7.2,"d":0.7},{"s":"u","e":7.35,"d":0.85},{"s":"u","e":7.45,"d":0.6},{"s":"u","e":7.6,"d":0.9},{"s":"u","e":7.75,"d":0.75},{"s":"u","e":7.9,"d":1.0},{"s":"u","e":8.0,"d":0.8},{"s":"u","e":8.15,"d":0.95},{"s":"u","e":8.3,"d":0.65},{"s":"u","e":8.45,"d":0.85},{"s":"u","e":8.6,"d":0.7},{"s":"u","e":8.75,"d":0.9},{"s":"u","e":8.85,"d":1.0},{"s":"u","e":9.0,"d":1.2},{"s":"u","e":9.1,"d":0.8},{"s":"u","e":9.25,"d":0.9},{"s":"u","e":9.4,"d":0.75},{"s":"u","e":9.55,"d":1.0},{"s":"u","e":9.7,"d":0.85},{"s":"u","e":9.8,"d":1.1},{"s":"u","e":9.95,"d":0.8},{"s":"u","e":10.1,"d":0.7},{"s":"u","e":10.3,"d":0.85},{"s":"u","e":10.5,"d":0.75},{"s":"u","e":10.7,"d":0.7},{"s":"u","e":10.9,"d":0.75},{"s":"u","e":11.1,"d":0.8},{"s":"u","e":11.3,"d":0.9},{"s":"u","e":11.5,"d":1.05},{"s":"u","e":11.7,"d":1.1},{"s":"u","e":11.9,"d":1.0},{"s":"u","e":12.05,"d":0.9},{"s":"u","e":12.2,"d":0.55},{"s":"u","e":12.5,"d":0.5},{"s":"u","e":12.8,"d":0.45},{"s":"u","e":13.15,"d":0.5},{"s":"u","e":13.4,"d":0.35},{"s":"u","e":13.7,"d":0.3},{"s":"u","e":14.2,"d":0.3},{"s":"u","e":14.7,"d":0.25},{"s":"u","e":15.2,"d":0.2},{"s":"u","e":15.7,"d":0.25},{"s":"u","e":16.2,"d":0.2},{"s":"u","e":16.6,"d":0.22},{"s":"u","e":17.1,"d":0.18},{"s":"u","e":17.6,"d":0.2},{"s":"u","e":18.1,"d":0.2},{"s":"u","e":18.5,"d":0.17},{"s":"u","e":19,"d":0.22},{"s":"u","e":19.5,"d":0.2},{"s":"u","e":20,"d":0.25},
{"s":"d","e":-10,"d":-0.02},{"s":"d","e":-9.0,"d":-0.03},{"s":"d","e":-8.0,"d":-0.02},{"s":"d","e":-7.75,"d":-0.05},{"s":"d","e":-7.4,"d":-0.2},{"s":"d","e":-7.2,"d":-0.4},{"s":"d","e":-7.0,"d":-0.6},{"s":"d","e":-6.9,"d":-1.0},{"s":"d","e":-6.8,"d":-1.5},{"s":"d","e":-6.7,"d":-2.0},{"s":"d","e":-6.6,"d":-2.3},{"s":"d","e":-6.5,"d":-1.9},{"s":"d","e":-6.4,"d":-1.8},{"s":"d","e":-6.3,"d":-1.9},{"s":"d","e":-6.2,"d":-1.6},{"s":"d","e":-6.1,"d":-1.2},{"s":"d","e":-6.0,"d":-1.5},{"s":"d","e":-5.9,"d":-0.6},{"s":"d","e":-5.85,"d":-0.3},{"s":"d","e":-5.75,"d":-0.8},{"s":"d","e":-5.65,"d":-1.0},{"s":"d","e":-5.5,"d":-1.2},{"s":"d","e":-5.4,"d":-1.3},{"s":"d","e":-5.3,"d":-1.1},{"s":"d","e":-5.15,"d":-1.3},{"s":"d","e":-5.0,"d":-1.2},{"s":"d","e":-4.9,"d":-1.1},{"s":"d","e":-4.8,"d":-1.3},{"s":"d","e":-4.7,"d":-1.5},{"s":"d","e":-4.6,"d":-2.5},{"s":"d","e":-4.5,"d":-3.6},{"s":"d","e":-4.45,"d":-3.0},{"s":"d","e":-4.35,"d":-4.0},{"s":"d","e":-4.25,"d":-3.0},{"s":"d","e":-4.15,"d":-2.5},{"s":"d","e":-4.05,"d":-2.0},{"s":"d","e":-3.95,"d":-1.8},{"s":"d","e":-3.85,"d":-1.7},{"s":"d","e":-3.75,"d":-1.6},{"s":"d","e":-3.65,"d":-2.0},{"s":"d","e":-3.55,"d":-1.2},{"s":"d","e":-3.45,"d":-0.6},{"s":"d","e":-3.3,"d":-0.9},{"s":"d","e":-3.2,"d":-1.1},{"s":"d","e":-3.05,"d":-0.7},{"s":"d","e":-2.9,"d":-0.6},{"s":"d","e":-2.75,"d":-0.7},{"s":"d","e":-2.6,"d":-0.5},{"s":"d","e":-2.45,"d":-0.6},{"s":"d","e":-2.25,"d":-0.5},{"s":"d","e":-2.05,"d":-0.45},{"s":"d","e":-1.85,"d":-0.4},{"s":"d","e":-1.65,"d":-0.4},{"s":"d","e":-1.4,"d":-0.3},{"s":"d","e":-1.1,"d":-0.2},{"s":"d","e":-0.8,"d":-0.1},{"s":"d","e":-0.55,"d":-0.05},{"s":"d","e":0,"d":0},{"s":"d","e":0.15,"d":-0.5},{"s":"d","e":0.3,"d":-0.9},{"s":"d","e":0.4,"d":-1.2},{"s":"d","e":0.5,"d":-0.7},{"s":"d","e":0.65,"d":-0.5},{"s":"d","e":0.8,"d":-0.4},{"s":"d","e":1.0,"d":-0.5},{"s":"d","e":1.2,"d":-0.45},{"s":"d","e":1.35,"d":-0.5},{"s":"d","e":1.6,"d":-0.4},{"s":"d","e":1.8,"d":-0.45},{"s":"d","e":1.95,"d":-0.4},{"s":"d","e":2.15,"d":-0.6},{"s":"d","e":2.3,"d":-0.8},{"s":"d","e":2.5,"d":-0.65},{"s":"d","e":2.7,"d":-0.6},{"s":"d","e":2.9,"d":-0.7},{"s":"d","e":3.1,"d":-0.9},{"s":"d","e":3.3,"d":-0.7},{"s":"d","e":3.5,"d":-0.65},{"s":"d","e":3.65,"d":-0.6},{"s":"d","e":3.9,"d":-0.7},{"s":"d","e":4.2,"d":-0.7},{"s":"d","e":4.4,"d":-0.8},{"s":"d","e":4.6,"d":-1.1},{"s":"d","e":4.7,"d":-0.5},{"s":"d","e":4.8,"d":-0.3},{"s":"d","e":5.2,"d":-0.3},{"s":"d","e":5.6,"d":-0.3},{"s":"d","e":5.95,"d":-0.3},{"s":"d","e":6.15,"d":-0.5},{"s":"d","e":6.3,"d":-0.6},{"s":"d","e":6.5,"d":-0.8},{"s":"d","e":6.7,"d":-1.0},{"s":"d","e":6.9,"d":-0.8},{"s":"d","e":7.1,"d":-0.9},{"s":"d","e":7.25,"d":-0.8},{"s":"d","e":7.45,"d":-1.1},{"s":"d","e":7.6,"d":-0.9},{"s":"d","e":7.8,"d":-1.2},{"s":"d","e":8.0,"d":-1.2},{"s":"d","e":8.1,"d":-1.5},{"s":"d","e":8.2,"d":-1.0},{"s":"d","e":8.35,"d":-1.3},{"s":"d","e":8.5,"d":-0.9},{"s":"d","e":8.6,"d":-0.8},{"s":"d","e":8.75,"d":-1.1},{"s":"d","e":8.9,"d":-0.9},{"s":"d","e":9.05,"d":-1.2},{"s":"d","e":9.15,"d":-1.0},{"s":"d","e":9.3,"d":-0.8},{"s":"d","e":9.5,"d":-0.9},{"s":"d","e":9.75,"d":-0.7},{"s":"d","e":9.9,"d":-0.8},{"s":"d","e":10.1,"d":-0.9},{"s":"d","e":10.3,"d":-1.0},{"s":"d","e":10.5,"d":-0.8},{"s":"d","e":10.7,"d":-0.75},{"s":"d","e":10.9,"d":-0.7},{"s":"d","e":11.1,"d":-0.8},{"s":"d","e":11.3,"d":-0.75},{"s":"d","e":11.45,"d":-0.8},{"s":"d","e":11.6,"d":-0.9},{"s":"d","e":11.8,"d":-1.0},{"s":"d","e":12.0,"d":-1.2},{"s":"d","e":12.2,"d":-0.8},{"s":"d","e":12.4,"d":-0.4},{"s":"d","e":12.7,"d":-0.35},{"s":"d","e":13.15,"d":-0.3},{"s":"d","e":13.5,"d":-0.25},{"s":"d","e":13.9,"d":-0.25},{"s":"d","e":14.5,"d":-0.22},{"s":"d","e":15.4,"d":-0.2},{"s":"d","e":16.2,"d":-0.18},{"s":"d","e":17,"d":-0.2},{"s":"d","e":17.7,"d":-0.2},{"s":"d","e":18.5,"d":-0.15},{"s":"d","e":19.2,"d":-0.12},{"s":"d","e":19.6,"d":-0.15},{"s":"d","e":20,"d":-0.2}
],
"F_Si":[
{"s":"u","e":-10,"d":0.03},{"s":"u","e":-9.5,"d":0.02},{"s":"u","e":-9.0,"d":0.03},{"s":"u","e":-8.5,"d":0.01},{"s":"u","e":-8.0,"d":0.02},{"s":"u","e":-7.8,"d":0.05},{"s":"u","e":-7.5,"d":0.3},{"s":"u","e":-7.25,"d":0.7},{"s":"u","e":-7.1,"d":1.5},{"s":"u","e":-6.95,"d":2.1},{"s":"u","e":-6.85,"d":1.6},{"s":"u","e":-6.7,"d":1.5},{"s":"u","e":-6.6,"d":1.7},{"s":"u","e":-6.5,"d":1.0},{"s":"u","e":-6.4,"d":0.5},{"s":"u","e":-6.3,"d":0.3},{"s":"u","e":-6.2,"d":0.9},{"s":"u","e":-6.05,"d":1.4},{"s":"u","e":-5.9,"d":1.5},{"s":"u","e":-5.8,"d":1.3},{"s":"u","e":-5.7,"d":1.45},{"s":"u","e":-5.55,"d":1.2},{"s":"u","e":-5.45,"d":1.35},{"s":"u","e":-5.35,"d":1.5},{"s":"u","e":-5.25,"d":1.2},{"s":"u","e":-5.15,"d":1.0},{"s":"u","e":-5.05,"d":1.6},{"s":"u","e":-5.0,"d":2.0},{"s":"u","e":-4.9,"d":2.9},{"s":"u","e":-4.85,"d":3.5},{"s":"u","e":-4.75,"d":3.0},{"s":"u","e":-4.7,"d":2.5},{"s":"u","e":-4.6,"d":2.0},{"s":"u","e":-4.5,"d":1.0},{"s":"u","e":-4.4,"d":0.6},{"s":"u","e":-4.25,"d":0.8},{"s":"u","e":-4.05,"d":0.9},{"s":"u","e":-3.9,"d":0.7},{"s":"u","e":-3.75,"d":0.8},{"s":"u","e":-3.6,"d":0.6},{"s":"u","e":-3.45,"d":0.7},{"s":"u","e":-3.3,"d":1.0},{"s":"u","e":-3.15,"d":0.7},{"s":"u","e":-3.0,"d":0.6},{"s":"u","e":-2.9,"d":0.4},{"s":"u","e":-2.6,"d":0.3},{"s":"u","e":-2.15,"d":0.2},{"s":"u","e":-1.8,"d":0.15},{"s":"u","e":-1.4,"d":0.1},{"s":"u","e":-1.1,"d":0.3},{"s":"u","e":-0.85,"d":0.6},{"s":"u","e":-0.65,"d":0.3},{"s":"u","e":-0.5,"d":0.45},{"s":"u","e":-0.35,"d":0.6},{"s":"u","e":-0.2,"d":0.5},{"s":"u","e":0,"d":0.4},{"s":"u","e":0.2,"d":0.45},{"s":"u","e":0.5,"d":0.5},{"s":"u","e":0.8,"d":0.55},{"s":"u","e":1.05,"d":0.6},{"s":"u","e":1.3,"d":0.5},{"s":"u","e":1.6,"d":0.7},{"s":"u","e":1.8,"d":0.75},{"s":"u","e":2.0,"d":1.0},{"s":"u","e":2.15,"d":0.8},{"s":"u","e":2.35,"d":0.6},{"s":"u","e":2.6,"d":0.55},{"s":"u","e":2.9,"d":0.45},{"s":"u","e":3.1,"d":0.4},{"s":"u","e":3.3,"d":0.5},{"s":"u","e":3.4,"d":0.9},{"s":"u","e":3.5,"d":0.3},{"s":"u","e":3.8,"d":0.35},{"s":"u","e":4.25,"d":0.3},{"s":"u","e":4.6,"d":0.3},{"s":"u","e":5.0,"d":0.3},{"s":"u","e":5.3,"d":0.4},{"s":"u","e":5.75,"d":0.5},{"s":"u","e":6.0,"d":0.55},{"s":"u","e":6.3,"d":0.7},{"s":"u","e":6.5,"d":0.8},{"s":"u","e":6.75,"d":0.7},{"s":"u","e":7.0,"d":0.9},{"s":"u","e":7.15,"d":0.75},{"s":"u","e":7.3,"d":1.1},{"s":"u","e":7.45,"d":0.9},{"s":"u","e":7.6,"d":1.2},{"s":"u","e":7.7,"d":1.0},{"s":"u","e":7.85,"d":1.1},{"s":"u","e":8.0,"d":0.9},{"s":"u","e":8.15,"d":1.05},{"s":"u","e":8.3,"d":0.7},{"s":"u","e":8.45,"d":0.9},{"s":"u","e":8.6,"d":0.6},{"s":"u","e":8.8,"d":0.95},{"s":"u","e":9.0,"d":0.8},{"s":"u","e":9.15,"d":1.0},{"s":"u","e":9.3,"d":0.95},{"s":"u","e":9.5,"d":0.8},{"s":"u","e":9.7,"d":0.85},{"s":"u","e":9.9,"d":0.7},{"s":"u","e":10.1,"d":0.8},{"s":"u","e":10.3,"d":0.7},{"s":"u","e":10.6,"d":0.75},{"s":"u","e":10.85,"d":0.8},{"s":"u","e":11.1,"d":0.85},{"s":"u","e":11.4,"d":0.9},{"s":"u","e":11.6,"d":0.95},{"s":"u","e":11.9,"d":0.9},{"s":"u","e":12.15,"d":0.6},{"s":"u","e":12.5,"d":0.55},{"s":"u","e":12.9,"d":0.5},{"s":"u","e":13.2,"d":0.4},{"s":"u","e":13.5,"d":0.3},{"s":"u","e":14.0,"d":0.28},{"s":"u","e":14.4,"d":0.25},{"s":"u","e":15.0,"d":0.22},{"s":"u","e":15.5,"d":0.25},{"s":"u","e":15.9,"d":0.2},{"s":"u","e":16.5,"d":0.22},{"s":"u","e":17.2,"d":0.2},{"s":"u","e":17.8,"d":0.2},{"s":"u","e":18.5,"d":0.22},{"s":"u","e":19.2,"d":0.25},{"s":"u","e":19.7,"d":0.3},{"s":"u","e":20,"d":0.3},
{"s":"d","e":-10,"d":-0.02},{"s":"d","e":-9,"d":-0.03},{"s":"d","e":-8,"d":-0.02},{"s":"d","e":-7.8,"d":-0.05},{"s":"d","e":-7.4,"d":-0.2},{"s":"d","e":-7.05,"d":-0.4},{"s":"d","e":-6.9,"d":-0.8},{"s":"d","e":-6.8,"d":-1.2},{"s":"d","e":-6.7,"d":-1.5},{"s":"d","e":-6.6,"d":-1.8},{"s":"d","e":-6.5,"d":-1.7},{"s":"d","e":-6.4,"d":-1.5},{"s":"d","e":-6.3,"d":-1.0},{"s":"d","e":-6.2,"d":-0.5},{"s":"d","e":-6.1,"d":-0.3},{"s":"d","e":-6.0,"d":-0.6},{"s":"d","e":-5.9,"d":-0.8},{"s":"d","e":-5.75,"d":-1.0},{"s":"d","e":-5.6,"d":-1.2},{"s":"d","e":-5.45,"d":-1.1},{"s":"d","e":-5.35,"d":-1.0},{"s":"d","e":-5.2,"d":-1.3},{"s":"d","e":-5.1,"d":-1.2},{"s":"d","e":-5.0,"d":-1.5},{"s":"d","e":-4.9,"d":-1.2},{"s":"d","e":-4.8,"d":-1.1},{"s":"d","e":-4.7,"d":-1.3},{"s":"d","e":-4.6,"d":-1.4},{"s":"d","e":-4.5,"d":-2.0},{"s":"d","e":-4.4,"d":-3.5},{"s":"d","e":-4.3,"d":-3.0},{"s":"d","e":-4.2,"d":-4.0},{"s":"d","e":-4.1,"d":-3.0},{"s":"d","e":-4.05,"d":-2.5},{"s":"d","e":-3.95,"d":-2.3},{"s":"d","e":-3.85,"d":-2.1},{"s":"d","e":-3.75,"d":-2.0},{"s":"d","e":-3.6,"d":-1.8},{"s":"d","e":-3.45,"d":-1.7},{"s":"d","e":-3.35,"d":-1.9},{"s":"d","e":-3.3,"d":-1.95},{"s":"d","e":-3.2,"d":-1.0},{"s":"d","e":-3.1,"d":-0.5},{"s":"d","e":-2.9,"d":-0.4},{"s":"d","e":-2.7,"d":-0.4},{"s":"d","e":-2.5,"d":-0.6},{"s":"d","e":-2.35,"d":-0.9},{"s":"d","e":-2.2,"d":-0.5},{"s":"d","e":-2.0,"d":-0.3},{"s":"d","e":-1.7,"d":-0.3},{"s":"d","e":-1.4,"d":-0.25},{"s":"d","e":-1.1,"d":-0.15},{"s":"d","e":-0.85,"d":-0.1},{"s":"d","e":-0.5,"d":-0.05},{"s":"d","e":0,"d":-0.05},{"s":"d","e":0.15,"d":-0.3},{"s":"d","e":0.3,"d":-0.8},{"s":"d","e":0.45,"d":-1.2},{"s":"d","e":0.55,"d":-0.8},{"s":"d","e":0.7,"d":-0.5},{"s":"d","e":0.85,"d":-0.5},{"s":"d","e":1.1,"d":-0.45},{"s":"d","e":1.35,"d":-0.55},{"s":"d","e":1.6,"d":-0.5},{"s":"d","e":1.9,"d":-0.55},{"s":"d","e":2.1,"d":-0.6},{"s":"d","e":2.35,"d":-0.6},{"s":"d","e":2.6,"d":-0.7},{"s":"d","e":2.85,"d":-0.6},{"s":"d","e":3.1,"d":-0.8},{"s":"d","e":3.3,"d":-0.7},{"s":"d","e":3.5,"d":-0.5},{"s":"d","e":3.8,"d":-0.45},{"s":"d","e":4.25,"d":-0.5},{"s":"d","e":4.6,"d":-0.45},{"s":"d","e":5.0,"d":-0.5},{"s":"d","e":5.4,"d":-0.5},{"s":"d","e":5.8,"d":-0.45},{"s":"d","e":6.15,"d":-0.5},{"s":"d","e":6.3,"d":-0.7},{"s":"d","e":6.5,"d":-0.8},{"s":"d","e":6.7,"d":-0.65},{"s":"d","e":6.9,"d":-0.6},{"s":"d","e":7.1,"d":-0.7},{"s":"d","e":7.25,"d":-0.6},{"s":"d","e":7.45,"d":-0.8},{"s":"d","e":7.65,"d":-0.9},{"s":"d","e":7.8,"d":-1.0},{"s":"d","e":8.0,"d":-0.8},{"s":"d","e":8.2,"d":-0.8},{"s":"d","e":8.35,"d":-1.0},{"s":"d","e":8.5,"d":-0.9},{"s":"d","e":8.6,"d":-1.1},{"s":"d","e":8.75,"d":-1.0},{"s":"d","e":8.95,"d":-1.2},{"s":"d","e":9.1,"d":-1.0},{"s":"d","e":9.3,"d":-0.9},{"s":"d","e":9.5,"d":-0.8},{"s":"d","e":9.7,"d":-0.75},{"s":"d","e":9.9,"d":-0.7},{"s":"d","e":10.1,"d":-0.75},{"s":"d","e":10.3,"d":-0.7},{"s":"d","e":10.6,"d":-0.75},{"s":"d","e":11.0,"d":-0.8},{"s":"d","e":11.3,"d":-0.75},{"s":"d","e":11.6,"d":-0.8},{"s":"d","e":11.9,"d":-0.85},{"s":"d","e":12.05,"d":-1.1},{"s":"d","e":12.15,"d":-1.4},{"s":"d","e":12.3,"d":-0.8},{"s":"d","e":12.55,"d":-0.4},{"s":"d","e":12.9,"d":-0.35},{"s":"d","e":13.3,"d":-0.3},{"s":"d","e":13.8,"d":-0.25},{"s":"d","e":14.4,"d":-0.25},{"s":"d","e":15.0,"d":-0.22},{"s":"d","e":15.9,"d":-0.2},{"s":"d","e":16.8,"d":-0.18},{"s":"d","e":17.8,"d":-0.15},{"s":"d","e":18.7,"d":-0.12},{"s":"d","e":19.3,"d":-0.15},{"s":"d","e":19.7,"d":-0.1},{"s":"d","e":20,"d":-0.15}
]
},
"hconcat":[
{"title":{"text":"AF","orient":"bottom","anchor":"middle","frame":"bounds","fontSize":24,"fontWeight":"normal","offset":18,"dx":22},
 "vconcat":[
 {"title":{"text":"DOS (states/eV)","orient":"left","anchor":"middle","frame":"bounds","fontSize":24,"fontWeight":"bold","offset":18,"dx":-11},
  "spacing":7,
  "bounds":"flush",
  "vconcat":[
  {"width":264,"height":215,"title":{"text":"Co","dx":-16},"data":{"name":"AF_Co"},
   "layer":[
   {"mark":{"type":"line","color":"#ff0000","strokeWidth":1.2},"encoding":{"x":{"field":"e","type":"quantitative","scale":{"domain":[-10,20],"nice":false,"zero":false},"axis":{"values":[-10,-7.5,-5,-2.5,0,2.5,5,7.5,10,12.5,15,17.5,20],"labels":false,"title":null}},"y":{"field":"d","type":"quantitative","scale":{"domain":[-12,12],"nice":false},"axis":{"values":[-10,-7.5,-5,-2.5,0,2.5,5,7.5,10],"labelExpr":"datum.value % 5 == 0 ? '' + datum.value : ''","title":null}},"detail":{"field":"s"}}},
   {"mark":{"type":"rule","color":"#ff0000","strokeWidth":1.5},"encoding":{"y":{"datum":0,"type":"quantitative","axis":{"orient":"right","values":[-10,-7.5,-5,-2.5,0,2.5,5,7.5,10],"labels":false,"title":null}}}},
   {"mark":{"type":"rule","color":"black","strokeWidth":1},"encoding":{"x":{"datum":0,"type":"quantitative","axis":{"orient":"top","values":[-10,-7.5,-5,-2.5,0,2.5,5,7.5,10,12.5,15,17.5,20],"labels":false,"title":null}}}}
   ],
   "resolve":{"axis":{"x":"independent","y":"independent"}}},
  {"width":264,"height":211,"title":{"text":"Mn","dx":-21},"data":{"name":"AF_Mn"},
   "layer":[
   {"mark":{"type":"line","color":"#8b1010","strokeWidth":1.2},"encoding":{"x":{"field":"e","type":"quantitative","scale":{"domain":[-10,20],"nice":false,"zero":false},"axis":{"values":[-10,-7.5,-5,-2.5,0,2.5,5,7.5,10,12.5,15,17.5,20],"labels":false,"title":null}},"y":{"field":"d","type":"quantitative","scale":{"domain":[-20,35],"nice":false},"axis":{"values":[-20,-15,-10,-5,0,5,10,15,20,25,30],"labelExpr":"datum.value % 10 == 0 ? '' + datum.value : ''","title":null}},"detail":{"field":"s"}}},
   {"mark":{"type":"rule","color":"#8b1010","strokeWidth":1.5},"encoding":{"y":{"datum":0,"type":"quantitative","axis":{"orient":"right","values":[-20,-15,-10,-5,0,5,10,15,20,25,30],"labels":false,"title":null}}}},
   {"mark":{"type":"rule","color":"black","strokeWidth":1},"encoding":{"x":{"datum":0,"type":"quantitative","axis":{"orient":"top","values":[-10,-7.5,-5,-2.5,0,2.5,5,7.5,10,12.5,15,17.5,20],"labels":false,"title":null}}}}
   ],
   "resolve":{"axis":{"x":"independent","y":"independent"}}},
  {"width":264,"height":211,"title":{"text":"Gd","dx":-21},"data":{"name":"AF_Gd"},
   "layer":[
   {"mark":{"type":"line","color":"#1414ff","strokeWidth":1.4},"encoding":{"x":{"field":"e","type":"quantitative","scale":{"domain":[-10,20],"nice":false,"zero":false},"axis":{"values":[-10,-7.5,-5,-2.5,0,2.5,5,7.5,10,12.5,15,17.5,20],"labels":false,"title":null}},"y":{"field":"d","type":"quantitative","scale":{"domain":[-14,19],"nice":false},"axis":{"values":[-12.5,-10,-7.5,-5,-2.5,0,2.5,5,7.5,10,12.5,15,17.5],"labelExpr":"datum.value % 5 == 0 ? '' + datum.value : ''","title":null}},"detail":{"field":"s"}}},
   {"mark":{"type":"rule","color":"#1414ff","strokeWidth":2.5},"encoding":{"y":{"datum":0,"type":"quantitative","axis":{"orient":"right","values":[-12.5,-10,-7.5,-5,-2.5,0,2.5,5,7.5,10,12.5,15,17.5],"labels":false,"title":null}}}},
   {"mark":{"type":"rule","color":"black","strokeWidth":1},"encoding":{"x":{"datum":0,"type":"quantitative","axis":{"orient":"top","values":[-10,-7.5,-5,-2.5,0,2.5,5,7.5,10,12.5,15,17.5,20],"labels":false,"title":null}}}}
   ],
   "resolve":{"axis":{"x":"independent","y":"independent"}}},
  {"width":264,"height":212,"title":{"text":"Si","dx":-12},"data":{"name":"AF_Si"},
   "layer":[
   {"mark":{"type":"line","color":"#ff8c1a","strokeWidth":1.2},"encoding":{"x":{"field":"e","type":"quantitative","scale":{"domain":[-10,20],"nice":false,"zero":false},"axis":{"values":[-10,-7.5,-5,-2.5,0,2.5,5,7.5,10,12.5,15,17.5,20],"labelExpr":"datum.value % 5 == 0 ? '' + datum.value : ''","labelPadding":10,"title":"E-EF(eV)"}},"y":{"field":"d","type":"quantitative","scale":{"domain":[-4,4],"nice":false},"axis":{"values":[-4,-3,-2,-1,0,1,2,3,4],"labelExpr":"datum.value % 2 == 0 ? '' + datum.value : ''","labelOffset":{"condition":{"test":"datum.value == -4","value":-5},"value":0},"title":null}},"detail":{"field":"s"}}},
   {"mark":{"type":"rule","color":"#ff8c1a","strokeWidth":2},"encoding":{"y":{"datum":0,"type":"quantitative","axis":{"orient":"right","values":[-4,-3,-2,-1,0,1,2,3,4],"labels":false,"title":null}}}},
   {"mark":{"type":"rule","color":"black","strokeWidth":1},"encoding":{"x":{"datum":0,"type":"quantitative","axis":{"orient":"top","values":[-10,-7.5,-5,-2.5,0,2.5,5,7.5,10,12.5,15,17.5,20],"labels":false,"title":null}}}}
   ],
   "resolve":{"axis":{"x":"independent","y":"independent"}}}
  ]}
 ]},
{"title":{"text":"F","orient":"bottom","anchor":"middle","frame":"bounds","fontSize":24,"fontWeight":"normal","offset":18,"dx":47},
 "spacing":7,
 "bounds":"flush",
 "vconcat":[
  {"width":265,"height":212,"title":{"text":"Co","dx":-10},"data":{"name":"F_Co"},
   "layer":[
   {"mark":{"type":"line","color":"#ff0000","strokeWidth":1.2},"encoding":{"x":{"field":"e","type":"quantitative","scale":{"domain":[-10,20],"nice":false,"zero":false},"axis":{"values":[-10,-7.5,-5,-2.5,0,2.5,5,7.5,10,12.5,15,17.5,20],"labels":false,"title":null}},"y":{"field":"d","type":"quantitative","scale":{"domain":[-11,11],"nice":false},"axis":{"values":[-10,-7.5,-5,-2.5,0,2.5,5,7.5,10],"labelExpr":"datum.value % 5 == 0 ? '' + datum.value : ''","title":null}},"detail":{"field":"s"}}},
   {"mark":{"type":"rule","color":"#ff0000","strokeWidth":1.5},"encoding":{"y":{"datum":0,"type":"quantitative","axis":{"orient":"right","values":[-10,-7.5,-5,-2.5,0,2.5,5,7.5,10],"labels":false,"title":null}}}},
   {"mark":{"type":"rule","color":"black","strokeWidth":1},"encoding":{"x":{"datum":0,"type":"quantitative","axis":{"orient":"top","values":[-10,-7.5,-5,-2.5,0,2.5,5,7.5,10,12.5,15,17.5,20],"labels":false,"title":null}}}}
   ],
   "resolve":{"axis":{"x":"independent","y":"independent"}}},
  {"width":265,"height":211,"title":{"text":"Mn","dx":-13},"data":{"name":"F_Mn"},
   "layer":[
   {"mark":{"type":"line","color":"#8b1010","strokeWidth":1.2},"encoding":{"x":{"field":"e","type":"quantitative","scale":{"domain":[-10,20],"nice":false,"zero":false},"axis":{"values":[-10,-7.5,-5,-2.5,0,2.5,5,7.5,10,12.5,15,17.5,20],"labels":false,"title":null}},"y":{"field":"d","type":"quantitative","scale":{"domain":[-20,35],"nice":false},"axis":{"values":[-20,-15,-10,-5,0,5,10,15,20,25,30],"labelExpr":"datum.value % 10 == 0 ? '' + datum.value : ''","title":null}},"detail":{"field":"s"}}},
   {"mark":{"type":"rule","color":"#8b1010","strokeWidth":1.5},"encoding":{"y":{"datum":0,"type":"quantitative","axis":{"orient":"right","values":[-20,-15,-10,-5,0,5,10,15,20,25,30],"labels":false,"title":null}}}},
   {"mark":{"type":"rule","color":"black","strokeWidth":1},"encoding":{"x":{"datum":0,"type":"quantitative","axis":{"orient":"top","values":[-10,-7.5,-5,-2.5,0,2.5,5,7.5,10,12.5,15,17.5,20],"labels":false,"title":null}}}}
   ],
   "resolve":{"axis":{"x":"independent","y":"independent"}}},
  {"width":265,"height":212,"title":{"text":"Gd","dx":-11},"data":{"name":"F_Gd"},
   "layer":[
   {"mark":{"type":"line","color":"#1414ff","strokeWidth":1.4},"encoding":{"x":{"field":"e","type":"quantitative","scale":{"domain":[-10,20],"nice":false,"zero":false},"axis":{"values":[-10,-7.5,-5,-2.5,0,2.5,5,7.5,10,12.5,15,17.5,20],"labels":false,"title":null}},"y":{"field":"d","type":"quantitative","scale":{"domain":[-14,19],"nice":false},"axis":{"values":[-12.5,-10,-7.5,-5,-2.5,0,2.5,5,7.5,10,12.5,15,17.5],"labelExpr":"datum.value % 5 == 0 ? '' + datum.value : ''","title":null}},"detail":{"field":"s"}}},
   {"mark":{"type":"rule","color":"#1414ff","strokeWidth":2.5},"encoding":{"y":{"datum":0,"type":"quantitative","axis":{"orient":"right","values":[-12.5,-10,-7.5,-5,-2.5,0,2.5,5,7.5,10,12.5,15,17.5],"labels":false,"title":null}}}},
   {"mark":{"type":"rule","color":"black","strokeWidth":1},"encoding":{"x":{"datum":0,"type":"quantitative","axis":{"orient":"top","values":[-10,-7.5,-5,-2.5,0,2.5,5,7.5,10,12.5,15,17.5,20],"labels":false,"title":null}}}}
   ],
   "resolve":{"axis":{"x":"independent","y":"independent"}}},
  {"width":265,"height":213,"title":{"text":"Si","dx":-8},"data":{"name":"F_Si"},
   "layer":[
   {"mark":{"type":"line","color":"#ff8c1a","strokeWidth":1.2},"encoding":{"x":{"field":"e","type":"quantitative","scale":{"domain":[-10,20],"nice":false,"zero":false},"axis":{"values":[-10,-7.5,-5,-2.5,0,2.5,5,7.5,10,12.5,15,17.5,20],"labelExpr":"datum.value % 5 == 0 ? '' + datum.value : ''","labelPadding":10,"title":"E-EF(eV)"}},"y":{"field":"d","type":"quantitative","scale":{"domain":[-4,4],"nice":false},"axis":{"values":[-4,-3,-2,-1,0,1,2,3,4],"labelExpr":"datum.value % 2 == 0 ? '' + datum.value : ''","labelOffset":{"condition":{"test":"datum.value == -4","value":-5},"value":0},"title":null}},"detail":{"field":"s"}}},
   {"mark":{"type":"rule","color":"#ff8c1a","strokeWidth":2},"encoding":{"y":{"datum":0,"type":"quantitative","axis":{"orient":"right","values":[-4,-3,-2,-1,0,1,2,3,4],"labels":false,"title":null}}}},
   {"mark":{"type":"rule","color":"black","strokeWidth":1},"encoding":{"x":{"datum":0,"type":"quantitative","axis":{"orient":"top","values":[-10,-7.5,-5,-2.5,0,2.5,5,7.5,10,12.5,15,17.5,20],"labels":false,"title":null}}}}
   ],
   "resolve":{"axis":{"x":"independent","y":"independent"}}}
 ]}
],
"spacing":0
}
